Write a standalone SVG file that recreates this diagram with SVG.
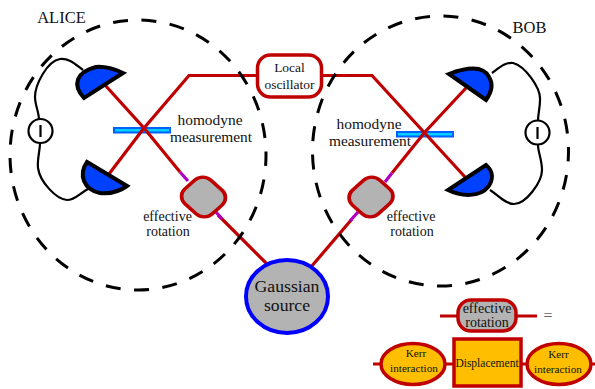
<svg xmlns="http://www.w3.org/2000/svg" width="595" height="389" viewBox="0 0 595 389">
<style>
text{font-family:"Liberation Serif","Times New Roman",serif;fill:#111;text-anchor:middle}
.m{font-size:15.4px}.e{font-size:14px}.l{font-size:13.5px}.g{font-size:17.7px}.k{font-size:11.2px}
.beam{fill:none;stroke:#c00000;stroke-width:3.2}
.mag{fill:none;stroke:#b000c0;stroke-width:3.2}
.dash{fill:none;stroke:#000;stroke-width:3;stroke-dasharray:15 13.5}
.wire{fill:none;stroke:#000;stroke-width:2.2}
.det{fill:#0040ff;stroke:#000;stroke-width:4;stroke-linejoin:miter}
.meter{fill:#fff;stroke:#000;stroke-width:2.2}
.bs{fill:#00d0ff;stroke:#0060ff;stroke-width:2}
.rot{fill:#b3b3b3;stroke:#c00000;stroke-width:3.5}
.gold{fill:#ffbf00;stroke:#c00000;stroke-width:3.5}
</style>
<g id="alice-splitter"><rect class="bs" x="114" y="128" width="56" height="4.500"/></g>
<g id="bob-splitter"><rect class="bs" x="397" y="132" width="56" height="4.500"/></g>
<g id="connectors">
<path class="beam" d="M105 85L144 128L189 75.500H257"/>
<path class="beam" d="M144 128L180 172M218 215L268 265"/>
<path class="beam" d="M144 128L109 174"/>
<path class="mag" d="M180 172L188 181M216 212L222 219"/>
<path class="beam" d="M322 75.500H372L465 177"/>
<path class="beam" d="M466 88L425 132L392 173M352 219L311 267"/>
<path class="mag" d="M392 173L385 182M358 212L350 221"/>
<path class="beam" d="M440 316H537"/>
<path class="beam" d="M373 364H595"/>
<path class="wire" d="M83 70C75 64 69 58 60 59C47 61 35 85 35 97C35 105 39 112 39 120"/>
<path class="wire" d="M40 143C40 150 37 160 38 168C40 182 56 199 67 200C75 200 80 193 88 189"/>
<path class="wire" d="M492 73C499 68 505 62 513 63C525 66 541 88 540 100C540 108 538 114 538 121"/>
<path class="wire" d="M538 145C538 152 542 160 542 170C542 182 526 204 514 204C505 204 498 195 490 190"/>
</g>
<ellipse class="dash" cx="138" cy="155" rx="128" ry="135" stroke-dashoffset="4"/>
<ellipse class="dash" cx="440.500" cy="151" rx="128" ry="135" stroke-dashoffset="4.500"/>
<g id="alice-detector-top"><path class="det" d="M84 98C72 85 76 72 96 67C106 66 114 69 123 73Z"/></g>
<g id="alice-detector-bottom"><path class="det" d="M87 162C78 175 84 190 100 193C110 194 120 191 127 186Z"/></g>
<g id="bob-detector-top"><path class="det" d="M449 74C465 68 483 65 489 77C494 85 491 93 486 100Z"/></g>
<g id="bob-detector-bottom"><path class="det" d="M448 190C462 197 480 197 488 187C494 179 493 171 486 165Z"/></g>
<g id="alice-meter"><circle class="meter" cx="40.500" cy="131" r="12"/><path class="meter" d="M40.500 125V137"/></g>
<g id="bob-meter"><circle class="meter" cx="537.500" cy="132.500" r="12"/><path class="meter" d="M537.500 127V139"/></g>
<g id="local-oscillator"><rect x="257.500" y="55" width="64" height="42" rx="13" fill="#fff" stroke="#c00000" stroke-width="3.500"/><text class="l" x="289.500" y="72">Local</text><text class="l" x="289.500" y="88.500">oscillator</text></g>
<g id="alice-rotation"><rect class="rot" x="-18.500" y="-17.500" width="37" height="35" rx="11" transform="translate(203.500 197) scale(1.05 .95) rotate(45)"/></g>
<g id="bob-rotation"><rect class="rot" x="-18.500" y="-17.500" width="37" height="35" rx="11" transform="translate(371 197) scale(1.05 .95) rotate(-45)"/></g>
<g id="gaussian-source"><ellipse cx="287" cy="296.500" rx="41" ry="36.500" fill="#b3b3b3" stroke="#0000ff" stroke-width="4"/><text class="g" x="287" y="292">Gaussian</text><text class="g" x="287" y="311">source</text></g>
<g id="legend-rotation"><rect x="458" y="300" width="58" height="31" rx="13" fill="#b3b3b3" stroke="#c00000" stroke-width="3.500"/><text class="e" x="487" y="312.700">effective</text><text class="e" x="487" y="327">rotation</text></g>
<g id="legend-kerr-left"><ellipse class="gold" cx="413" cy="364" rx="32" ry="20.500"/><text class="k" x="416" y="357">Kerr</text><text class="k" x="414" y="372">interaction</text></g>
<g id="legend-displacement"><rect class="gold" x="454" y="339" width="67" height="47"/><text x="487" y="367" font-size="11.500">Displacement</text></g>
<g id="legend-kerr-right"><ellipse class="gold" cx="559" cy="364" rx="32" ry="20.500"/><text class="k" x="558.500" y="358">Kerr</text><text class="k" x="558" y="373">interaction</text></g>
<text x="61.500" y="23" font-size="16.500">ALICE</text>
<text x="529.500" y="33" font-size="16.500">BOB</text>
<text class="m" x="210" y="125">homodyne</text>
<text class="m" x="211" y="141.500">measurement</text>
<text class="m" x="369" y="129">homodyne</text>
<text class="m" x="370" y="146">measurement</text>
<text class="e" x="167.500" y="221">effective</text>
<text class="e" x="168" y="236">rotation</text>
<text class="e" x="411" y="221">effective</text>
<text class="e" x="412" y="236">rotation</text>
<text x="548" y="321" font-size="16" style="fill:#666">=</text>
</svg>
